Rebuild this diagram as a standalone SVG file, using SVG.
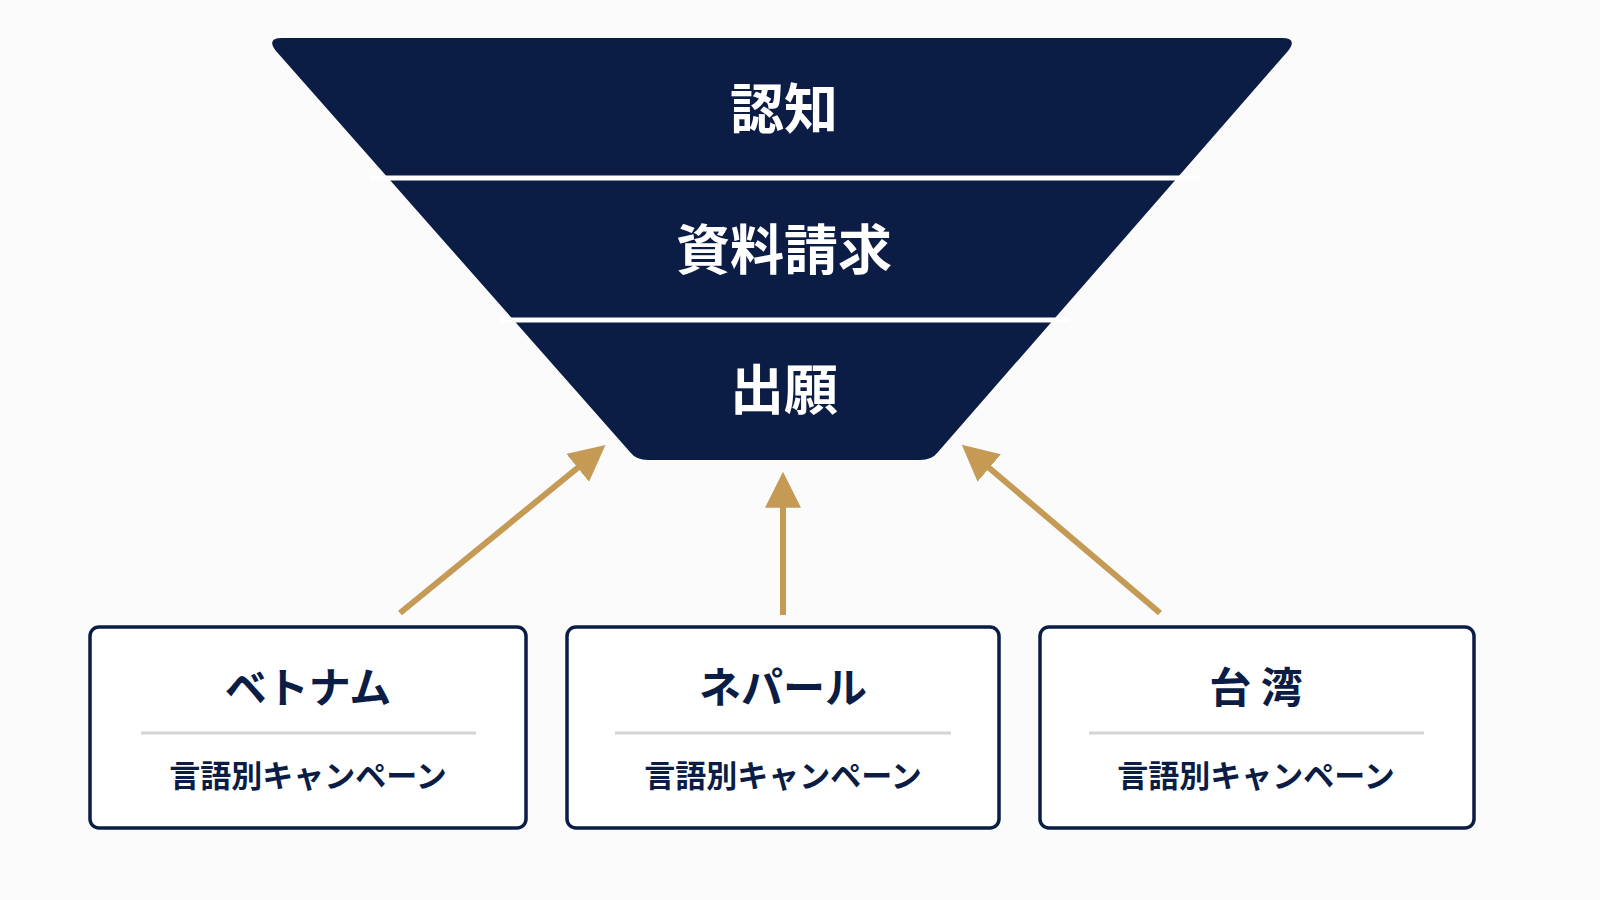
<svg xmlns="http://www.w3.org/2000/svg" width="1600" height="900" viewBox="0 0 1600 900">
<style>
.t{font-family:"Noto Sans CJK JP","Noto Sans",sans-serif;font-weight:700;text-anchor:middle;}
.ft{fill:#ffffff;font-size:54px;}
.box{fill:#ffffff;stroke:#0b1c45;stroke-width:3.5;}
.bt{fill:#0b1c45;font-size:42px;}
.bs{fill:#0b1c45;font-size:31px;}
.div{stroke:#d4d4d4;stroke-width:3;}
.arr{stroke:#c49a55;stroke-width:6;fill:none;marker-end:url(#ah);}
</style>
<defs>
<marker id="ah" markerWidth="36" markerHeight="36" refX="3" refY="5" orient="auto" markerUnits="userSpaceOnUse" viewBox="0 0 10 10">
<path d="M0,0 L10,5 L0,10 Z" fill="#c49a55"/>
</marker>
</defs>
<rect width="1600" height="900" fill="#fbfbfc"/>
<g id="funnel">
<path d="M282,38 L1282,38 Q1298,38 1288,51 L938,452 Q932,460 920,460 L648,460 Q636,460 630,452 L276,51 Q266,38 282,38 Z" fill="#0b1c45"/>
<line x1="370" y1="178" x2="1200" y2="178" stroke="#ffffff" stroke-width="5"/>
<line x1="500" y1="320" x2="1070" y2="320" stroke="#ffffff" stroke-width="5"/>
<text class="t ft" x="784" y="129">認知</text>
<text class="t ft" x="784" y="270">資料請求</text>
<text class="t ft" x="784" y="410">出願</text>
</g>
<g id="connectors">
<line class="arr" x1="400" y1="613" x2="586" y2="461"/>
<line class="arr" x1="783" y1="615" x2="783" y2="497"/>
<line class="arr" x1="1160" y1="613" x2="981" y2="461"/>
</g>
<g id="vietnam">
<rect class="box" x="90" y="627" width="436" height="201" rx="9"/>
<text class="t bt" x="308" y="703">ベトナム</text>
<line class="div" x1="141" y1="733" x2="476" y2="733"/>
<text class="t bs" x="308" y="787">言語別キャンペーン</text>
</g>
<g id="nepal">
<rect class="box" x="567" y="627" width="432" height="201" rx="9"/>
<text class="t bt" x="783" y="703">ネパール</text>
<line class="div" x1="615" y1="733" x2="951" y2="733"/>
<text class="t bs" x="783" y="787">言語別キャンペーン</text>
</g>
<g id="taiwan">
<rect class="box" x="1040" y="627" width="434" height="201" rx="9"/>
<text class="t bt" x="1256" y="703">台 湾</text>
<line class="div" x1="1089" y1="733" x2="1424" y2="733"/>
<text class="t bs" x="1256" y="787">言語別キャンペーン</text>
</g>
</svg>
